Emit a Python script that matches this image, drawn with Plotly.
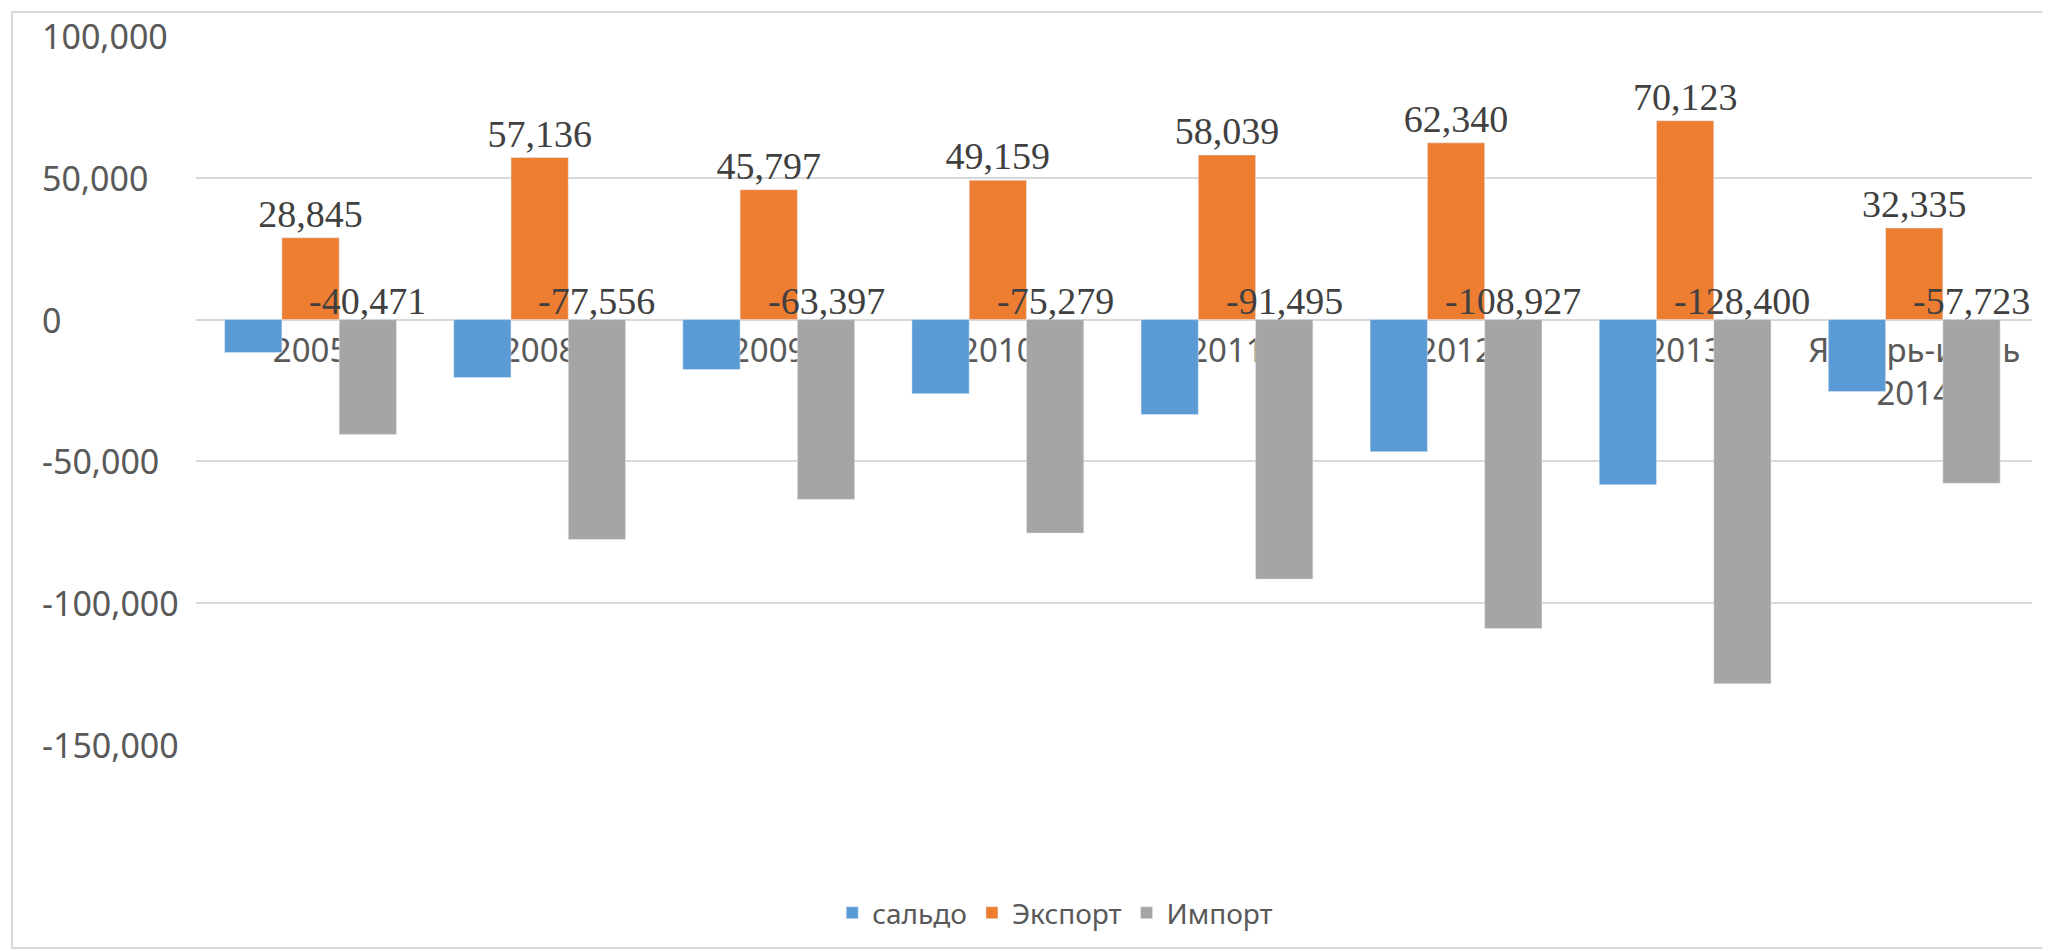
import plotly.graph_objects as go

# data
categories = ['2005', '2008', '2009', '2010', '2011', '2012', '2013', 'Январь-июнь<br>2014']
export_vals = [28845, 57136, 45797, 49159, 58039, 62340, 70123, 32335]
import_vals = [-40471, -77556, -63397, -75279, -91495, -108927, -128400, -57723]
saldo_vals = [-11626, -20420, -17600, -26120, -33456, -46587, -58277, -25388]
y_ticks = [100000, 50000, 0, -50000, -100000, -150000]

BLUE = '#5B9BD5'
ORANGE = '#ED7D31'
GRAY = '#A5A5A5'
SANS = 'Noto Sans'
SERIF = 'Liberation Serif'

fig = go.Figure()

fig.add_trace(go.Bar(x=categories, y=saldo_vals, name='сальдо', marker_color=BLUE))

fig.add_trace(
    go.Bar(
        x=categories,
        y=export_vals,
        name='Экспорт',
        marker_color=ORANGE,
        text=[f'{v:,}' for v in export_vals],
        textposition='outside',
        constraintext='none',
        cliponaxis=False,
        textfont=dict(family=SERIF, size=38, color='#404040'),
    )
)

fig.add_trace(go.Bar(x=categories, y=import_vals, name='Импорт', marker_color=GRAY))

# import labels sit just above the zero line, over the grey bars
for i, v in enumerate(import_vals):
    fig.add_annotation(
        x=i + 0.25, y=0, xref='x', yref='y',
        text=f'{v:,}', showarrow=False,
        yanchor='bottom', yshift=-4,
        font=dict(family=SERIF, size=38, color='#404040'),
    )

# y tick labels, left aligned like the original
for t in y_ticks:
    fig.add_annotation(
        x=-0.085, y=t, xref='paper', yref='y',
        text=f'{t:,}', showarrow=False,
        xanchor='left', yanchor='middle',
        font=dict(family=SANS, size=34, color='#595959'),
    )

# light frame around chart area
fig.add_shape(
    type='rect', xref='paper', yref='paper',
    x0=-0.1002, x1=1.0076, y0=-0.2863, y1=1.0339,
    line=dict(color='#D9D9D9', width=2), layer='below',
)

# page body adds an 8px margin, so the figure is a bit smaller than the window
fig.update_layout(
    width=2042,
    height=943,
    barmode='group',
    bargap=0.25,
    bargroupgap=0,
    plot_bgcolor='white',
    paper_bgcolor='white',
    margin=dict(l=188, r=18, t=28, b=206),
    font=dict(family=SANS, color='#595959'),
    xaxis=dict(
        anchor='free',
        position=0.6,
        showline=False,
        ticks='',
        showgrid=False,
        layer='below traces',
        ticklabelstandoff=8,
        tickfont=dict(family=SANS, size=33, color='#595959'),
    ),
    yaxis=dict(
        range=[-150000, 100000],
        tickvals=y_ticks,
        showticklabels=False,
        showgrid=True,
        gridcolor='#D9D9D9',
        gridwidth=2,
        zeroline=True,
        zerolinecolor='#D9D9D9',
        zerolinewidth=2,
    ),
    legend=dict(
        orientation='h',
        x=0.468, xanchor='center',
        y=-0.237, yanchor='middle',
        font=dict(family=SANS, size=28, color='#595959'),
        traceorder='normal',
    ),
    showlegend=True,
)

fig.write_html('out.html')
